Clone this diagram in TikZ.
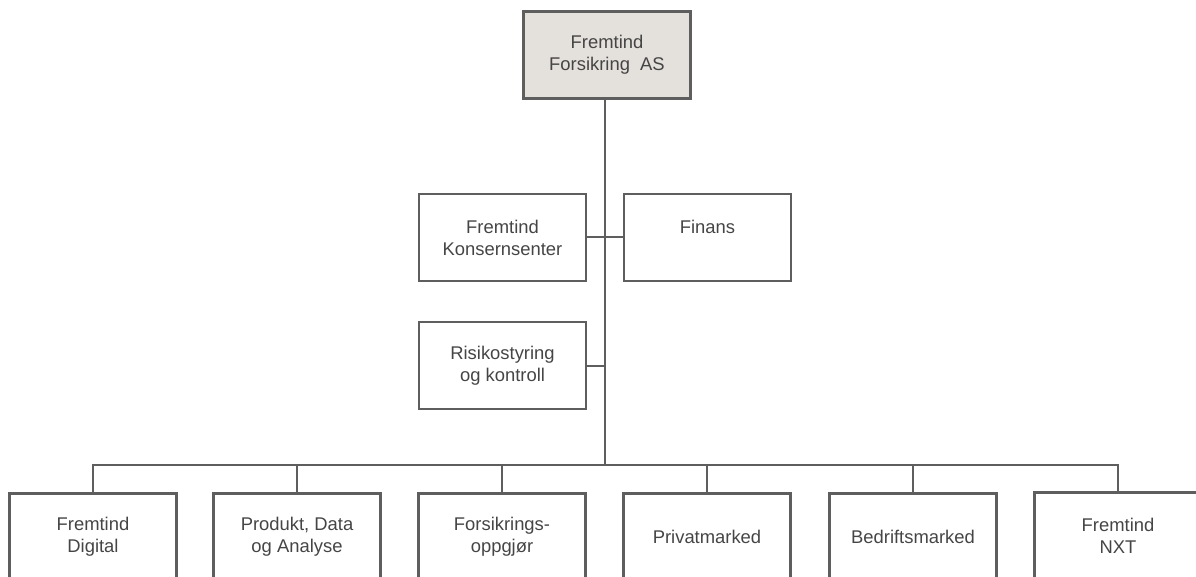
\documentclass[tikz,border=0pt]{standalone}
\usepackage{fontspec}
\setmainfont{Liberation Sans}
\usetikzlibrary{positioning}
\definecolor{boxline}{HTML}{5E5E5E}
\definecolor{topfill}{HTML}{E4E0DB}
\definecolor{txtgray}{HTML}{454545}

\begin{document}
\begin{tikzpicture}[x=1pt,y=-1pt,
  unit/.style={rectangle,draw=boxline,line width=2.8pt,minimum width=167pt,minimum height=87pt,
    align=center,text=txtgray,inner sep=0pt,font=\fontsize{18.4}{22}\selectfont},
  link/.style={draw=boxline,line width=2pt}]
\useasboundingbox (0,0) rectangle (1196,577);
\clip (0,0) rectangle (1196,577);

% Top level
\node[unit,fill=topfill] (top) at (607,55) {Fremtind\\Forsikring\ \ AS};

% Staff units
\node[unit] (konsern) at (502.5,237.5) {Fremtind\\Konsernsenter};
\node[unit] (finans) at (707.5,237.5) {Finans\\~};
\node[unit] (risiko) at (502.5,365.5) {Risikostyring\\og kontroll};

% Business units - bottom row
\node[unit] (digital) at (93,537) {Fremtind\\Digital};
\node[unit] (produkt) at (297,537) {Produkt, Data\\og Analyse};
\node[unit] (oppgjor) at (502,537) {Forsikrings-\\oppgjør};
\node[unit] (privat) at (707,537) {Privatmarked};
\node[unit] (bedrift) at (913,537) {Bedriftsmarked};
\node[unit] (nxt) at (1118,536) {Fremtind\\NXT};

% Main trunk
\coordinate (bus) at (605,465);
\draw[link] (top.south -| bus) -- (bus);
\draw[link] (konsern) -- (finans);
\draw[link] (risiko.east) -- (risiko.east -| bus);

% Bus to bottom row
\draw[link] (digital.north) |- (nxt.north |- bus) -- (nxt.north);
\draw[link] (produkt.north) -- (produkt.north |- bus);
\draw[link] (oppgjor.north) -- (oppgjor.north |- bus);
\draw[link] (privat.north) -- (privat.north |- bus);
\draw[link] (bedrift.north) -- (bedrift.north |- bus);
\end{tikzpicture}
\end{document}
